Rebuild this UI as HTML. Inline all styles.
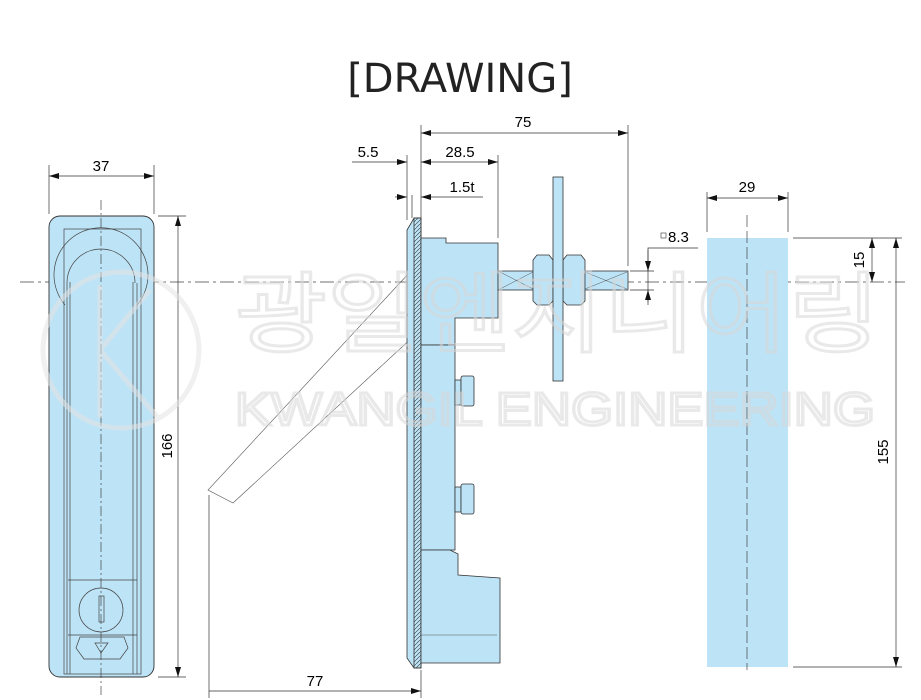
<!DOCTYPE html>
<html><head><meta charset="utf-8"><style>
html,body{margin:0;padding:0;background:#fff;}
svg{display:block;font-family:"Liberation Sans","Noto Sans CJK KR",sans-serif;}
</style></head><body>
<svg width="921" height="700" viewBox="0 0 921 700" xmlns="http://www.w3.org/2000/svg">
<defs>
<marker id="a" viewBox="0 0 10 6" refX="10" refY="3" markerWidth="10" markerHeight="6" orient="auto-start-reverse" markerUnits="userSpaceOnUse"><path d="M0,0L10,3L0,6z" fill="#111"/></marker>
<pattern id="h" width="4" height="4" patternUnits="userSpaceOnUse"><path d="M0,4L4,0" stroke="#333" stroke-width="0.6"/></pattern>
</defs>
<text x="460" y="92" font-size="40" text-anchor="middle" fill="#222" font-family="'DejaVu Sans',sans-serif">[DRAWING]</text>

<!-- center line -->
<line x1="20" y1="282" x2="905" y2="282" stroke="#444" stroke-width="0.8" stroke-dasharray="14,4,3,4"/>

<!-- LEFT VIEW -->
<g stroke="#333" stroke-width="0.9" fill="#bde3f6">
<rect x="49" y="216" width="105" height="461" rx="11"/>
</g>
<g stroke="#444" stroke-width="0.7" fill="none">
<rect x="64" y="229" width="77" height="445"/>
<path d="M65,305A47,47 0 1 1 137,305"/>
<path d="M67,283V674M137,283V674M67,283A34,34 0 0 1 135,283"/>
<line x1="70" y1="282" x2="70" y2="674"/>
<line x1="133" y1="282" x2="133" y2="674"/>
<line x1="68" y1="580" x2="137" y2="580"/>
<line x1="68" y1="635" x2="137" y2="635"/>
<circle cx="101" cy="610" r="22"/>
<rect x="99" y="596" width="5" height="26"/>
<path d="M80,637H124L128,648L120,659H84L76,648Z"/>
<path d="M95,643H108L101,653Z"/>
<line x1="101" y1="200" x2="101" y2="695" stroke-dasharray="10,3,2,3"/>
</g>
<g stroke="#333" stroke-width="0.7">
<line x1="49" y1="165" x2="49" y2="214"/><line x1="154" y1="165" x2="154" y2="214"/>
<line x1="49" y1="176" x2="154" y2="176" marker-start="url(#a)" marker-end="url(#a)"/>
<line x1="158" y1="216" x2="186" y2="216"/><line x1="158" y1="677" x2="186" y2="677"/>
<line x1="178" y1="216" x2="178" y2="677" marker-start="url(#a)" marker-end="url(#a)"/>
</g>
<text x="101" y="171" font-size="15" text-anchor="middle">37</text>
<text transform="translate(172,446) rotate(-90)" font-size="15" text-anchor="middle">166</text>

<!-- MIDDLE VIEW -->
<g stroke="#555" stroke-width="0.6" fill="none">
<path d="M410,272L208,490L233,503L415,335"/>
</g>
<g stroke="#333" stroke-width="0.8" fill="#bde3f6">
<path d="M410,225L414,218H421V668H414L407,658L407,230Z"/>
<rect x="414" y="218" width="7" height="450" fill="url(#h)"/>
<path d="M421,238H446V243H498V318H455V345H421Z"/>
<rect x="421" y="345" width="34" height="205"/>
<path d="M421,550H450L458,554V575L500,578V663H421Z"/>
<rect x="498" y="271" width="130" height="19"/>
<path d="M533,260L537,255H549L553,260V301L549,305H537L533,301Z"/>
<path d="M563,260L567,255H581L585,260V301L581,305H567L563,301Z"/>
<rect x="553" y="177" width="10" height="204"/>
<rect x="455" y="380" width="6" height="25"/><rect x="461" y="376" width="13" height="30" rx="2"/>
<rect x="455" y="487" width="6" height="25"/><rect x="461" y="484" width="13" height="30" rx="2"/>
</g>
<g stroke="#555" stroke-width="0.5" fill="none">
<path d="M500,272L533,289M500,289L533,272M585,272L627,289M585,289L627,272"/>
<line x1="421" y1="635" x2="497" y2="635"/>
</g>
<g stroke="#333" stroke-width="0.7" fill="none">
<line x1="407" y1="155" x2="407" y2="220"/>
<line x1="421" y1="125" x2="421" y2="218"/>
<line x1="498" y1="155" x2="498" y2="238"/>
<line x1="628" y1="125" x2="628" y2="266"/>
<line x1="421" y1="133" x2="628" y2="133" marker-start="url(#a)" marker-end="url(#a)"/>
<line x1="421" y1="162" x2="498" y2="162" marker-start="url(#a)" marker-end="url(#a)"/>
<line x1="352" y1="162" x2="407" y2="162" marker-end="url(#a)"/>
<line x1="395" y1="197" x2="407" y2="197" marker-end="url(#a)"/>
<line x1="421" y1="197" x2="483" y2="197" marker-start="url(#a)"/>
<line x1="412" y1="195" x2="412" y2="218"/>
<line x1="209" y1="495" x2="209" y2="698"/>
<line x1="421" y1="670" x2="421" y2="698"/>
<line x1="209" y1="691" x2="421" y2="691" marker-end="url(#a)"/>
<path d="M648,302V248H698"/>
<line x1="630" y1="271" x2="654" y2="271"/><line x1="630" y1="290" x2="654" y2="290"/>
<line x1="648" y1="250" x2="648" y2="271" marker-end="url(#a)"/>
<line x1="648" y1="305" x2="648" y2="290" marker-end="url(#a)"/>
</g>
<text x="523" y="127" font-size="15" text-anchor="middle">75</text>
<text x="460" y="157" font-size="15" text-anchor="middle">28.5</text>
<text x="368" y="157" font-size="15" text-anchor="middle">5.5</text>
<text x="462" y="192" font-size="15" text-anchor="middle">1.5t</text>
<text x="315" y="686" font-size="15" text-anchor="middle">77</text>
<rect x="661" y="233" width="5" height="5" fill="none" stroke="#333" stroke-width="0.6"/>
<text x="668" y="242" font-size="15">8.3</text>

<!-- RIGHT VIEW -->
<rect x="707" y="238" width="81" height="429" fill="#bde3f6"/>
<line x1="747" y1="215" x2="747" y2="670" stroke="#444" stroke-width="0.7" stroke-dasharray="12,4"/>
<g stroke="#333" stroke-width="0.7">
<line x1="707" y1="192" x2="707" y2="232"/><line x1="788" y1="192" x2="788" y2="232"/>
<line x1="707" y1="198" x2="788" y2="198" marker-start="url(#a)" marker-end="url(#a)"/>
<line x1="793" y1="238" x2="902" y2="238"/><line x1="793" y1="667" x2="902" y2="667"/>
<line x1="872" y1="238" x2="872" y2="282" marker-start="url(#a)" marker-end="url(#a)"/>
<line x1="896" y1="238" x2="896" y2="667" marker-start="url(#a)" marker-end="url(#a)"/>
</g>
<text x="747" y="192" font-size="15" text-anchor="middle">29</text>
<text transform="translate(864,260) rotate(-90)" font-size="15" text-anchor="middle">15</text>
<text transform="translate(888,452) rotate(-90)" font-size="15" text-anchor="middle">155</text>

<!-- watermark (semi-transparent overlay) -->
<g opacity="0.55">
<g fill="none" stroke="#e4e4e4" stroke-width="5">
<circle cx="121" cy="350" r="78"/>
<path d="M100,285V418M100,350L150,290M100,350L160,420"/>
</g>
<text x="235" y="345" font-size="88" textLength="645" lengthAdjust="spacingAndGlyphs" fill="none" stroke="#d8d8d8" stroke-width="3" font-family="'Noto Sans CJK KR',sans-serif">광일엔지니어링</text>
<text x="235" y="425" font-size="46" textLength="640" lengthAdjust="spacingAndGlyphs" fill="none" stroke="#d8d8d8" stroke-width="3">KWANGIL ENGINEERING</text>
</g>
</svg>
</body></html>
